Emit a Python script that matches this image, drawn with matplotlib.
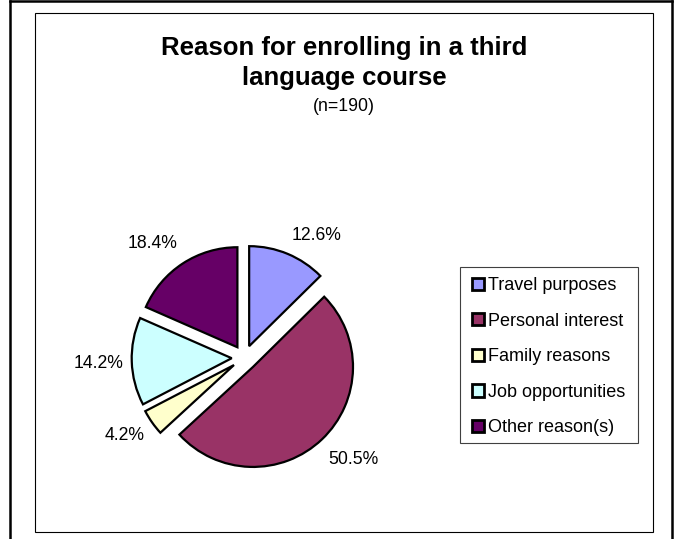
import matplotlib
matplotlib.use("Agg")
import matplotlib.pyplot as plt
from matplotlib.patches import Rectangle
from matplotlib.lines import Line2D

# ---- data ----
categories = ["Travel purposes", "Personal interest", "Family reasons",
              "Job opportunities", "Other reason(s)"]
percentages = [12.6, 50.5, 4.2, 14.2, 18.4]
title_line1 = "Reason for enrolling in a third"
title_line2 = "language course"
subtitle = "(n=190)"

# ---- style ----
colors = ["#9999FF", "#993366", "#FFFFCC", "#CCFFFF", "#660066"]
plt.rcParams['font.family'] = ['Liberation Sans', 'DejaVu Sans']

W, H, DPI = 679, 539, 100
CX, CY, R = 244.3, 357.8, 100.0      # pie centre / radius in pixels (from top-left)
EXPLODE = 0.126
# label centres in pixels (layout)
label_px = [(317, 236), (353, 459), (125, 436), (99, 363), (153, 244)]

fig = plt.figure(figsize=(W / DPI, H / DPI), dpi=DPI)
ax = fig.add_axes([0, 0, 1, 1])
wedges, _ = ax.pie(percentages, colors=colors, startangle=90, counterclock=False,
                   explode=[EXPLODE] * len(percentages), radius=1.0,
                   wedgeprops=dict(edgecolor='black', linewidth=1.6))
ax.set_xlim(-CX / R, (W - CX) / R)
ax.set_ylim(-(H - CY) / R, CY / R)
ax.set_aspect('auto')
ax.axis('off')

for (px, py), v in zip(label_px, percentages):
    ax.text((px - CX) / R, (CY - py) / R, f"{v:.1f}%", ha='center', va='center',
            fontsize=12.7, color='black')

def fx(px):
    return px / W

def fy(py):
    return 1 - py / H

# outer frame (partially visible)
fig.add_artist(Line2D([fx(9.5), fx(9.5)], [0, fy(1.3)], transform=fig.transFigure,
                      color='black', lw=1.8))
fig.add_artist(Line2D([fx(672), fx(672)], [0, fy(1.3)], transform=fig.transFigure,
                      color='black', lw=1.8))
fig.add_artist(Line2D([fx(9.5), fx(672)], [fy(1.3), fy(1.3)], transform=fig.transFigure,
                      color='black', lw=1.8))
# chart area frame
fig.add_artist(Rectangle((fx(35), fy(532)), (653 - 35) / W, (532 - 13) / H,
                         transform=fig.transFigure, fill=False, edgecolor='black', lw=0.8))

# titles
fig.text(fx(344), fy(55), title_line1, ha='center', va='baseline', fontsize=18.5,
         fontweight='bold')
fig.text(fx(344), fy(85), title_line2, ha='center', va='baseline', fontsize=18.5,
         fontweight='bold')
fig.text(fx(344), fy(111), subtitle, ha='center', va='baseline', fontsize=12.7)

# legend
fig.add_artist(Rectangle((fx(460), fy(443)), (638 - 460) / W, (443 - 267) / H,
                         transform=fig.transFigure, fill=False, edgecolor='#404040', lw=0.8))
leg = ax.legend(wedges, categories, loc='upper left', bbox_to_anchor=(fx(472), fy(277)),
                bbox_transform=fig.transFigure, frameon=False, fontsize=13,
                handlelength=0.67, handleheight=0.67, handletextpad=0.2,
                labelspacing=1.03, borderpad=0, borderaxespad=0)
for h in leg.legend_handles:
    h.set_linewidth(2.0)

fig.savefig("out.png", dpi=DPI)
